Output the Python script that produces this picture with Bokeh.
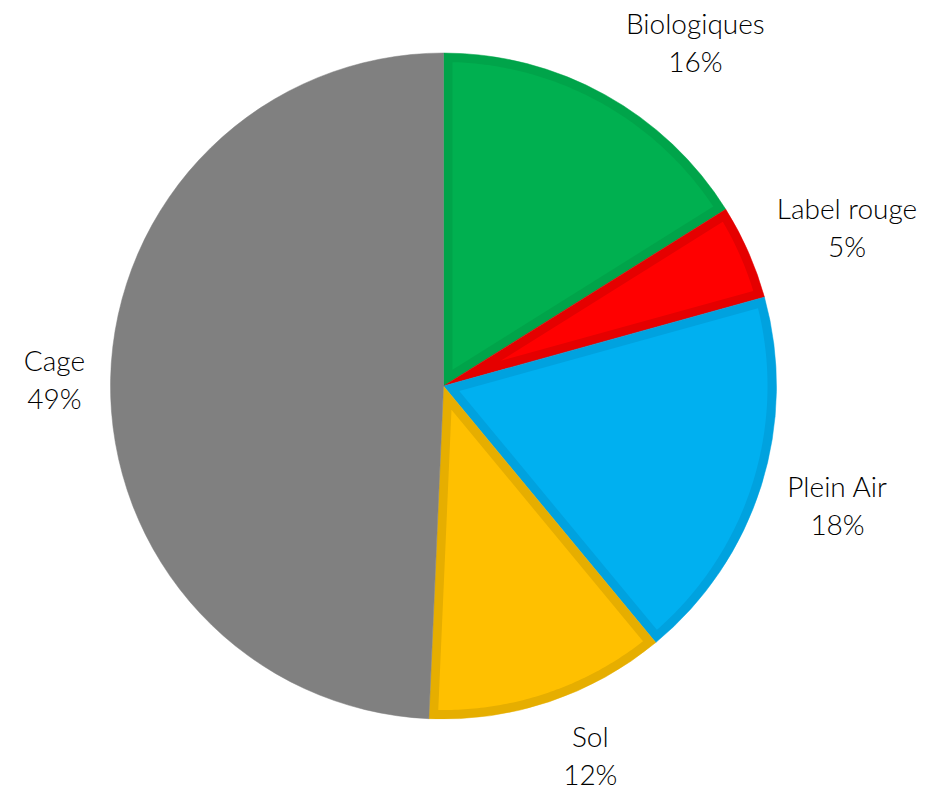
import math
from bokeh.plotting import figure
from bokeh.models import ColumnDataSource
from bokeh.core.properties import value
from bokeh.embed import file_html
from bokeh.resources import INLINE

# ---- data ----
categories = ["Biologiques", "Label rouge", "Plein Air", "Sol", "Cage"]
shares = [16.1, 4.6, 18.3, 11.7, 49.3]
fill_colors = ["#00B050", "#FF0000", "#00B0F0", "#FFC000", "#808080"]
border_colors = ["#00A44A", "#E50000", "#00A2DF", "#E6AE00", "#808080"]

# ---- layout ----
W, H = 940, 790
CX, CY = 443.0, 404.5          # pie centre (px, data units == px)
R = 333.0                      # pie radius
D = 9.0                        # inset border width
label_angle_deg = [53.8, 21.45, -16.8, -68.3, 178.97]
label_dist = [426.4, 433.5, 411.6, 397.0, 389.1]
LINE_OFF = 19.0
FONT = value("'Lato Light', Lato")

total = sum(shares)
starts, ends = [], []
a = math.pi / 2
for s in shares:
    sweep = 2 * math.pi * s / total
    starts.append(a)
    ends.append(a - sweep)
    a -= sweep

p = figure(width=W, height=H, x_range=(0, W), y_range=(0, H),
           output_backend="svg", toolbar_location=None, min_border=0,
           match_aspect=False)
p.axis.visible = False
p.grid.visible = False
p.outline_line_color = None
p.background_fill_color = "white"
p.border_fill_color = "white"

# outer wedges in border colour
src = ColumnDataSource(dict(x=[CX] * len(shares), y=[CY] * len(shares),
                            start=starts, end=ends, color=border_colors))
p.wedge(x="x", y="y", radius=R, start_angle="start", end_angle="end",
        direction="clock", fill_color="color", line_color="color",
        line_width=0.5, source=src)

# inset fill polygons
xs_all, ys_all = [], []
for a1, a2 in zip(starts, ends):
    theta = a1 - a2
    bis = (a1 + a2) / 2
    apex = D / math.sin(theta / 2)
    r = R - D
    delta = math.asin(D / r)
    xs = [CX + apex * math.cos(bis)]
    ys = [CY + apex * math.sin(bis)]
    n = max(8, int((theta - 2 * delta) / 0.01))
    for i in range(n + 1):
        t = (a1 - delta) - (theta - 2 * delta) * i / n
        xs.append(CX + r * math.cos(t))
        ys.append(CY + r * math.sin(t))
    xs_all.append(xs)
    ys_all.append(ys)
p.patches(xs_all, ys_all, fill_color=fill_colors, line_color=None)

# labels
lx, ly, pct = [], [], []
for ang, dist, s in zip(label_angle_deg, label_dist, shares):
    t = math.radians(ang)
    lx.append(CX + dist * math.cos(t))
    ly.append(CY + dist * math.sin(t))
    pct.append(f"{round(s / total * 100)}%")

p.text(x=lx, y=[y + LINE_OFF for y in ly], text=categories,
       text_font=FONT, text_font_size="28px", text_color="#000000",
       text_align="center", text_baseline="middle")
p.text(x=lx, y=[y - LINE_OFF for y in ly], text=pct,
       text_font=FONT, text_font_size="28px", text_color="#000000",
       text_align="center", text_baseline="middle")

open("out.html", "w").write(file_html(p, INLINE))
